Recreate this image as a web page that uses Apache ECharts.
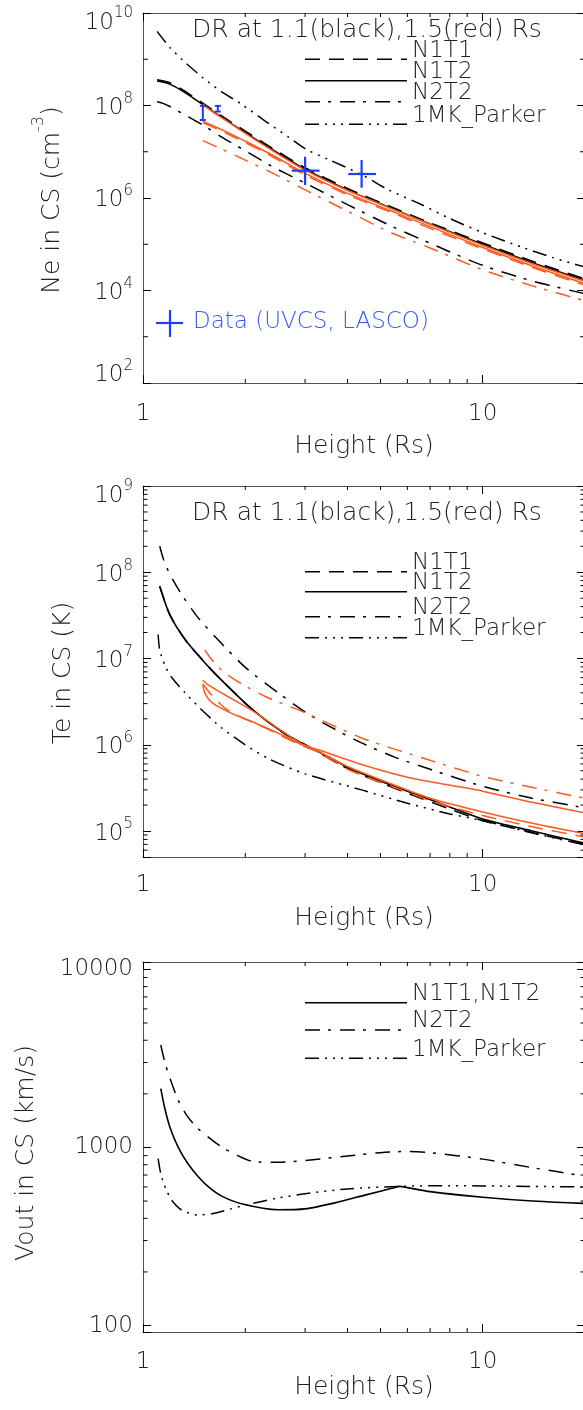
<!DOCTYPE html>
<html>
<head>
<meta charset="utf-8">
<script src="https://cdn.jsdelivr.net/npm/echarts@6.0.0/dist/echarts.min.js"></script>
<style>
html,body{margin:0;padding:0;background:#ffffff;}
#chart{width:583px;height:1410px;}
</style>
</head>
<body>
<div id="chart"></div>
<script>
// ================= DATA =================
// x values: height in solar radii (Rs)

// ---- Panel 1 : Ne in CS (cm^-3) ----
const neParkerH   = [1.1, 1.2, 1.31, 1.5, 1.7, 1.93, 2.3, 2.7, 3.03, 3.5, 4.4, 5.3, 6.5, 8, 10, 13, 16, 20];
const neParker    = [4.0e9, 1.8e9, 9.5e8, 4.0e8, 2.0e8, 1.12e8, 4.5e7, 2.0e7, 1.12e7, 6.9e6, 3.2e6, 1.48e6, 7.6e5, 3.6e5, 1.78e5, 8.7e4, 5.2e4, 3.2e4];
const neBlackH    = [1.1, 1.15, 1.2, 1.3, 1.4, 1.5, 1.7, 2.0, 2.4, 3.0, 4.0, 5.3, 7.0, 10, 14, 20];
const neN1T2Black = [3.4e8, 3.2e8, 2.9e8, 2.1e8, 1.48e8, 1.05e8, 5.6e7, 2.6e7, 1.12e7, 4.2e6, 1.5e6, 6.3e5, 2.75e5, 1.0e5, 4.0e4, 1.66e4];
const neN1T1Black = [3.6e8, 3.4e8, 3.1e8, 2.25e8, 1.58e8, 1.12e8, 6.0e7, 2.8e7, 1.2e7, 4.5e6, 1.6e6, 6.7e5, 2.9e5, 1.07e5, 4.3e4, 1.78e4];
const neN2T2BlackH = [1.1, 1.15, 1.2, 1.3, 1.5, 1.7, 2.0, 2.4, 3.0, 4.0, 5.3, 7.0, 10, 14, 20];
const neN2T2Black  = [1.2e8, 1.1e8, 9.5e7, 6.8e7, 3.8e7, 2.1e7, 1.05e7, 4.8e6, 2.1e6, 7.2e5, 2.6e5, 1.05e5, 3.5e4, 1.6e4, 8.5e3];
const neRedH      = [1.5, 1.6, 1.8, 2.0, 2.4, 3.0, 4.0, 5.3, 7.0, 10, 14, 20];
const neN1T2RedA  = [1.07e8, 7.4e7, 4.2e7, 2.5e7, 1.07e7, 4.0e6, 1.45e6, 6.2e5, 2.7e5, 9.5e4, 3.8e4, 1.58e4];
const neN1T2RedB  = [4.5e7, 3.7e7, 2.5e7, 1.7e7, 8.5e6, 3.4e6, 1.26e6, 5.5e5, 2.4e5, 8.5e4, 3.4e4, 1.41e4];
const neN1T1Red   = [4.2e7, 3.45e7, 2.3e7, 1.58e7, 7.9e6, 3.15e6, 1.17e6, 5.1e5, 2.2e5, 7.9e4, 3.15e4, 1.3e4];
const neN2T2RedH  = [1.5, 1.7, 2.0, 2.5, 3.0, 4.0, 5.3, 7.0, 10, 14, 20];
const neN2T2Red   = [1.74e7, 1.15e7, 6.6e6, 3.0e6, 1.5e6, 5.2e5, 1.86e5, 8.3e4, 2.8e4, 1.26e4, 6.0e3];
// observations (UVCS, LASCO)
const obsCrossH    = [3.0, 4.4];
const obsCrossHLo  = [2.74, 4.02];
const obsCrossHHi  = [3.31, 4.85];
const obsCrossNe   = [3.9e6, 3.3e6];
const obsCrossNeLo = [1.9e6, 1.67e6];
const obsCrossNeHi = [7.8e6, 6.6e6];
const obsBarH      = [1.5, 1.66];
const obsBarNeLo   = [4.85e7, 7.4e7];
const obsBarNeHi   = [9.8e7, 9.8e7];

// ---- Panel 2 : Te in CS (K) ----
const teN1BlackH  = [1.12, 1.2, 1.33, 1.5, 1.66, 2.09, 2.61, 3.0, 3.43, 4.0, 5.0, 6.0, 8, 10, 14, 20];
const teN1T2Black = [6.9e7, 3.2e7, 1.66e7, 9.5e6, 6.2e6, 2.6e6, 1.35e6, 1.0e6, 7.6e5, 5.5e5, 3.8e5, 2.9e5, 1.9e5, 1.38e5, 1.0e5, 7.2e4];
const teN1T1Black = [6.9e7, 3.2e7, 1.66e7, 9.5e6, 6.2e6, 2.6e6, 1.35e6, 1.0e6, 7.4e5, 5.3e5, 3.65e5, 2.75e5, 1.8e5, 1.32e5, 9.6e4, 7.0e4];
const teN2T2BlackH = [1.12, 1.15, 1.2, 1.3, 1.45, 1.66, 2.0, 2.5, 3.0, 3.4, 4.4, 5.5, 7, 10, 14, 20];
const teN2T2Black  = [2.0e8, 1.4e8, 9.5e7, 5.5e7, 3.0e7, 1.66e7, 7.9e6, 4.0e6, 2.4e6, 1.78e6, 1.05e6, 7.2e5, 5.2e5, 3.3e5, 2.4e5, 1.86e5];
const teParkerH = [1.108, 1.12, 1.16, 1.22, 1.33, 1.48, 1.7, 2.0, 2.34, 3.0, 4.4, 6, 8, 10, 14, 20];
const teParker  = [1.9e7, 1.26e7, 8.3e6, 5.9e6, 4.0e6, 2.6e6, 1.58e6, 1.0e6, 6.9e5, 4.6e5, 3.0e5, 2.1e5, 1.58e5, 1.32e5, 9.5e4, 6.9e4];
const teN2T2RedH = [1.52, 1.6, 1.74, 2.0, 2.3, 2.6, 3.0, 3.5, 4.4, 5.5, 7, 10, 14, 20];
const teN2T2Red  = [1.26e7, 9.5e6, 6.8e6, 4.8e6, 3.6e6, 2.95e6, 2.35e6, 1.78e6, 1.2e6, 8.9e5, 6.6e5, 4.3e5, 3.2e5, 2.4e5];
const teRedAH = [1.5, 1.52, 1.58, 1.67, 1.85, 2.09, 2.61, 2.9, 3.3, 4.4, 6, 8, 10, 14, 20];
const teRedA  = [4.9e6, 4.0e6, 3.2e6, 2.75e6, 2.25e6, 1.86e6, 1.26e6, 1.02e6, 8.7e5, 5.9e5, 4.2e5, 3.4e5, 2.9e5, 2.15e5, 1.62e5];
const teRedBH = [1.5, 1.56, 1.74, 2.09, 2.5, 2.9, 3.3, 4, 5.5, 7, 10, 14, 20];
const teRedB  = [5.6e6, 4.9e6, 3.8e6, 2.5e6, 1.55e6, 1.05e6, 8.3e5, 5.6e5, 3.4e5, 2.4e5, 1.66e5, 1.23e5, 9.3e4];
const teRedCH = [1.5, 1.59, 1.78, 2.28, 2.9, 3.3, 4, 5.5, 7, 10, 14, 20];
const teRedC  = [5.1e6, 3.8e6, 2.5e6, 1.58e6, 1.0e6, 8.1e5, 5.2e5, 3.2e5, 2.25e5, 1.51e5, 1.12e5, 8.5e4];

// ---- Panel 3 : Vout in CS (km/s) ----
const vN1H   = [1.128, 1.16, 1.2, 1.27, 1.35, 1.45, 1.556, 1.7, 1.95, 2.5, 3.0, 3.7, 4.5, 5.4, 5.7, 6.0, 7, 10, 14, 20];
const vN1    = [2140, 1650, 1300, 1000, 820, 690, 603, 535, 483, 447, 452, 490, 540, 590, 605, 595, 565, 525, 500, 485];
const vN2T2H = [1.128, 1.16, 1.2, 1.27, 1.35, 1.45, 1.56, 1.7, 1.9, 2.1, 2.5, 3.0, 4.0, 5.0, 6.0, 7.0, 10, 14, 20];
const vN2T2  = [3760, 3000, 2450, 1840, 1500, 1280, 1140, 1010, 900, 835, 825, 845, 895, 935, 950, 935, 860, 770, 690];
const vParkerH = [1.108, 1.13, 1.17, 1.22, 1.3, 1.44, 1.6, 1.8, 2.0, 2.5, 3.0, 4.0, 5.7, 8, 10, 14, 20];
const vParker  = [865, 700, 580, 500, 445, 418, 425, 450, 475, 520, 550, 585, 605, 610, 608, 604, 600];

// tick labels / texts
const xTickLabels = ['1', '10'];
const legendNeTe = ['N1T1', 'N1T2', 'N2T2', '1MK_Parker'];
const legendV = ['N1T1,N1T2', 'N2T2', '1MK_Parker'];
const noteDR = 'DR at 1.1(black),1.5(red) Rs';
const noteData = 'Data (UVCS, LASCO)';

// ================= STYLE =================
const FONT = "'DejaVu Sans', 'Liberation Sans', sans-serif";
const FW = 200;
const TXT = '#222222';
const AXIS = '#555555';
const RED = '#ff5a1e';
const BLUE = '#1e3cff';
const BLUE_TXT = '#3a58ff';
const SOLID = 'solid';
const DASH = [15, 9];
const DASHDOT = [15, 8, 3, 9];
const DASH3DOT = [14, 6, 2, 6, 2, 6, 2, 6];

const grids = [
  {left: 143, top: 13, width: 442, height: 370},
  {left: 143, top: 486, width: 442, height: 371},
  {left: 143, top: 962, width: 442, height: 370}
];
const X_RANGE = [1, 20];
const Y_RANGES = [[1e2, 1e10], [5e4, 1e9], [92, 11000]];

function isPow10(v) { const l = Math.log10(v); return Math.abs(l - Math.round(l)) < 1e-6; }
function pairs(h, v) { return h.map((x, i) => [x, v[i]]); }

function lineSeries(name, h, v, color, dash, gi, width) {
  return {
    type: 'line', name: name, xAxisIndex: 2 * gi, yAxisIndex: 2 * gi,
    data: pairs(h, v), showSymbol: false, symbol: 'none', smooth: 0.25,
    silent: true, animation: false, z: 3,
    lineStyle: {color: color, width: width || 1.5, type: dash, cap: 'butt'}
  };
}

const tickTxt = {fontFamily: FONT, fontWeight: FW, color: TXT};
const supRich = {
  b:  Object.assign({fontSize: 23, lineHeight: 28, verticalAlign: 'bottom'}, tickTxt),
  s:  Object.assign({fontSize: 15, lineHeight: 15, verticalAlign: 'top'}, tickTxt),
  bt: Object.assign({fontSize: 23, lineHeight: 28, verticalAlign: 'top', padding: [13, 0, 0, 0]}, tickTxt),
  st: Object.assign({fontSize: 15, lineHeight: 15, verticalAlign: 'top', padding: [7, 0, 0, 0]}, tickTxt),
  bb: Object.assign({fontSize: 23, lineHeight: 48, verticalAlign: 'bottom', padding: [0, 0, 20, 0]}, tickTxt),
  sb: Object.assign({fontSize: 15, lineHeight: 15, verticalAlign: 'top'}, tickTxt)
};

function makeXAxes(gi, margin, nameGap) {
  const common = {
    type: 'log', logBase: 10, gridIndex: gi, min: X_RANGE[0], max: X_RANGE[1],
    splitLine: {show: false}, minorTick: {show: false}, minorSplitLine: {show: false},
    axisLine: {show: true, lineStyle: {color: AXIS, width: 1}},
    axisTick: {show: true, inside: true, length: 8, lineStyle: {color: '#000', width: 1}}
  };
  return [
    Object.assign({}, common, {
      position: 'bottom', name: 'Height (Rs)', nameLocation: 'middle', nameGap: nameGap,
      nameTextStyle: {fontFamily: FONT, fontWeight: FW, fontSize: 25, color: TXT},
      axisLabel: {show: true, margin: margin, fontFamily: FONT, fontWeight: FW, fontSize: 23, color: TXT,
        formatter: v => {
          if (!isPow10(v)) return '';
          return xTickLabels[Math.round(Math.log10(v))] || '';
        }}
    }),
    Object.assign({}, common, {position: 'top', axisLabel: {show: false}})
  ];
}

function makeYAxes(gi, extra, formatter, rich) {
  const common = Object.assign({
    type: 'log', logBase: 10, gridIndex: gi, min: Y_RANGES[gi][0], max: Y_RANGES[gi][1],
    splitLine: {show: false}, minorTick: {show: false}, minorSplitLine: {show: false},
    axisLine: {show: true, lineStyle: {color: AXIS, width: 1}},
    axisTick: {show: true, inside: true, length: 8, lineStyle: {color: '#000', width: 1}}
  }, extra || {});
  return [
    Object.assign({}, common, {
      position: 'left',
      axisLabel: {show: true, margin: 10, fontFamily: FONT, fontWeight: FW, fontSize: 23, color: TXT,
        formatter: formatter, rich: rich}
    }),
    Object.assign({}, common, {position: 'right', axisLabel: {show: false}})
  ];
}

function supFormatter(topExp, botExp) {
  return v => {
    if (!isPow10(v)) return '';
    const e = Math.round(Math.log10(v));
    if (e === topExp) return '{bt|10}{st|' + e + '}';
    if (e === botExp) return '{bb|10}{sb|' + e + '}';
    return '{b|10}{s|' + e + '}';
  };
}

// minor ticks drawn through the axes' own scales
function minorTicks(gi, xVals, yVals, lenX, lenY) {
  const xr = X_RANGE, yr = Y_RANGES[gi];
  const specs = [];
  xVals.forEach(v => { specs.push([v, yr[0], 0, lenX]); specs.push([v, yr[1], 1, lenX]); });
  yVals.forEach(v => { specs.push([xr[0], v, 2, lenY]); specs.push([xr[1], v, 3, lenY]); });
  return {
    type: 'custom', xAxisIndex: 2 * gi, yAxisIndex: 2 * gi, silent: true, animation: false, z: 5,
    data: specs,
    renderItem: (params, api) => {
      const p = api.coord([api.value(0), api.value(1)]);
      const side = api.value(2), len = api.value(3);
      let x2 = p[0], y2 = p[1];
      if (side === 0) y2 -= len; else if (side === 1) y2 += len; else if (side === 2) x2 += len; else x2 -= len;
      return {type: 'line', shape: {x1: p[0], y1: p[1], x2: x2, y2: y2}, style: {stroke: '#000', lineWidth: 1}};
    }
  };
}
function decadeMinors(fromExp, toExp, lo, hi) {
  const out = [];
  for (let e = fromExp; e <= toExp; e++) for (let m = 2; m <= 9; m++) {
    const v = m * Math.pow(10, e);
    if (v > lo && v < hi) out.push(v);
  }
  return out;
}
const xMinor = decadeMinors(0, 1, 1, 20);
const y1Minor = [1e3, 1e5, 1e7, 1e9];
const y2Minor = decadeMinors(4, 8, 5e4, 1e9);
const y3Minor = decadeMinors(1, 3, 92, 11000);

// ================= SERIES =================
const series = [
  // panel 1
  lineSeries('1MK_Parker', neParkerH, neParker, '#000', DASH3DOT, 0),
  lineSeries('N2T2', neN2T2BlackH, neN2T2Black, '#000', DASHDOT, 0),
  lineSeries('N1T2', neBlackH, neN1T2Black, '#000', SOLID, 0, 1.6),
  lineSeries('N1T1', neBlackH, neN1T1Black, '#000', DASH, 0, 1.6),
  lineSeries('N2T2 (1.5)', neN2T2RedH, neN2T2Red, RED, DASHDOT, 0),
  lineSeries('N1T1 (1.5)', neRedH, neN1T1Red, RED, DASH, 0),
  lineSeries('N1T2 (1.5) b', neRedH, neN1T2RedB, RED, SOLID, 0),
  lineSeries('N1T2 (1.5) a', neRedH, neN1T2RedA, RED, SOLID, 0),
  // panel 2
  lineSeries('1MK_Parker', teParkerH, teParker, '#000', DASH3DOT, 1),
  lineSeries('N2T2', teN2T2BlackH, teN2T2Black, '#000', DASHDOT, 1),
  lineSeries('N1T2', teN1BlackH, teN1T2Black, '#000', SOLID, 1, 1.6),
  lineSeries('N1T1', teN1BlackH, teN1T1Black, '#000', DASH, 1, 1.6),
  lineSeries('N2T2 (1.5)', teN2T2RedH, teN2T2Red, RED, DASHDOT, 1),
  lineSeries('N1T2 (1.5) a', teRedAH, teRedA, RED, SOLID, 1),
  lineSeries('N1T2 (1.5) b', teRedBH, teRedB, RED, SOLID, 1),
  lineSeries('N1T1 (1.5)', teRedCH, teRedC, RED, DASH, 1),
  // panel 3
  lineSeries('N1T1,N1T2', vN1H, vN1, '#000', SOLID, 2, 1.6),
  lineSeries('N2T2', vN2T2H, vN2T2, '#000', DASHDOT, 2),
  lineSeries('1MK_Parker', vParkerH, vParker, '#000', DASH3DOT, 2),
  // observations
  {
    type: 'custom', name: 'Data crosses', xAxisIndex: 0, yAxisIndex: 0, silent: true, animation: false, z: 6,
    data: obsCrossH.map((h, i) => [h, obsCrossNe[i], obsCrossHLo[i], obsCrossHHi[i], obsCrossNeLo[i], obsCrossNeHi[i]]),
    renderItem: (params, api) => {
      const h = api.value(0), v = api.value(1);
      const l = api.coord([api.value(2), v]), r = api.coord([api.value(3), v]);
      const lo = api.coord([h, api.value(4)]), hi = api.coord([h, api.value(5)]);
      return {type: 'group', children: [
        {type: 'line', shape: {x1: l[0], y1: l[1], x2: r[0], y2: r[1]}, style: {stroke: BLUE, lineWidth: 2.2}},
        {type: 'line', shape: {x1: lo[0], y1: lo[1], x2: hi[0], y2: hi[1]}, style: {stroke: BLUE, lineWidth: 2.2}}
      ]};
    }
  },
  {
    type: 'custom', name: 'Data bars', xAxisIndex: 0, yAxisIndex: 0, silent: true, animation: false, z: 6,
    data: obsBarH.map((h, i) => [h, obsBarNeLo[i], obsBarNeHi[i]]),
    renderItem: (params, api) => {
      const h = api.value(0);
      const lo = api.coord([h, api.value(1)]), hi = api.coord([h, api.value(2)]);
      const st = {stroke: BLUE, lineWidth: 2};
      return {type: 'group', children: [
        {type: 'line', shape: {x1: lo[0], y1: lo[1], x2: hi[0], y2: hi[1]}, style: st},
        {type: 'line', shape: {x1: lo[0] - 3, y1: lo[1], x2: lo[0] + 3, y2: lo[1]}, style: st},
        {type: 'line', shape: {x1: hi[0] - 3, y1: hi[1], x2: hi[0] + 3, y2: hi[1]}, style: st}
      ]};
    }
  },
  minorTicks(0, xMinor, y1Minor, 4, 5),
  minorTicks(1, xMinor, y2Minor, 4, 4.5),
  minorTicks(2, xMinor, y3Minor, 4, 4.5)
];

// ================= GRAPHIC (legends, notes, y titles) =================
function legendItems(ys, labels, dashes) {
  const els = [];
  ys.forEach((y, i) => {
    els.push({type: 'line', silent: true, shape: {x1: 305, y1: y, x2: 407, y2: y},
      style: {stroke: '#000', lineWidth: 1.5, lineDash: dashes[i] === SOLID ? null : dashes[i]}});
    els.push({type: 'text', silent: true, x: 412, y: y - 8.5,
      style: {text: labels[i], fontFamily: FONT, fontWeight: FW, fontSize: 23, fill: TXT, align: 'left', verticalAlign: 'middle'}});
  });
  return els;
}
function textEl(x, y, text, size, color, rot, rich) {
  const st = {text: text, fontFamily: FONT, fontWeight: FW, fontSize: size, fill: color, align: 'center', verticalAlign: 'middle'};
  if (rich) st.rich = rich;
  return {type: 'text', silent: true, x: x, y: y, rotation: rot || 0, style: st};
}
const titleRich = {
  b: {fontFamily: FONT, fontWeight: FW, fontSize: 25, lineHeight: 34, verticalAlign: 'bottom', fill: TXT, color: TXT},
  s: {fontFamily: FONT, fontWeight: FW, fontSize: 16, lineHeight: 16, verticalAlign: 'top', fill: TXT, color: TXT}
};

const graphicEls = [].concat(
  [textEl(367, 30, noteDR, 25, TXT), textEl(367, 513, noteDR, 25, TXT)],
  legendItems([59.3, 80.7, 101.7, 124.3], legendNeTe, [DASH, SOLID, DASHDOT, DASH3DOT]),
  legendItems([571.7, 591.7, 616.7, 637.7], legendNeTe, [DASH, SOLID, DASHDOT, DASH3DOT]),
  legendItems([1002.7, 1030, 1058.3], legendV, [SOLID, DASHDOT, DASH3DOT]),
  [
    {type: 'line', silent: true, shape: {x1: 156, y1: 323, x2: 183, y2: 323}, style: {stroke: BLUE, lineWidth: 2.2}},
    {type: 'line', silent: true, shape: {x1: 170, y1: 310, x2: 170, y2: 337}, style: {stroke: BLUE, lineWidth: 2.2}},
    {type: 'text', silent: true, x: 193, y: 322,
      style: {text: noteData, fontFamily: FONT, fontWeight: FW, fontSize: 23, fill: BLUE_TXT, align: 'left', verticalAlign: 'middle'}},
    textEl(48, 200, '{b|Ne in CS (cm}{s|-3}{b|)}', 25, TXT, Math.PI / 2, titleRich),
    textEl(63, 673, 'Te in CS (K)', 25, TXT, Math.PI / 2),
    textEl(26, 1153, 'Vout in CS (km/s)', 25, TXT, Math.PI / 2)
  ]
);

// ================= OPTION =================
const option = {
  animation: false,
  backgroundColor: '#ffffff',
  grid: grids.map(g => Object.assign({show: false, containLabel: false, outerBoundsMode: 'none'}, g)),
  xAxis: [].concat(makeXAxes(0, 19.5, 50.5), makeXAxes(1, 16.5, 49), makeXAxes(2, 18.5, 42.5)),
  yAxis: [].concat(
    makeYAxes(0, {interval: 2}, supFormatter(10, 2), supRich),
    makeYAxes(1, {}, supFormatter(9, null), supRich),
    makeYAxes(2, {}, v => isPow10(v) ? String(Math.round(v)) : '', null)
  ),
  series: series,
  graphic: {elements: graphicEls}
};

const chart = echarts.init(document.getElementById('chart'), null, {renderer: 'canvas', width: 583, height: 1410});
chart.setOption(option);
</script>
</body>
</html>
